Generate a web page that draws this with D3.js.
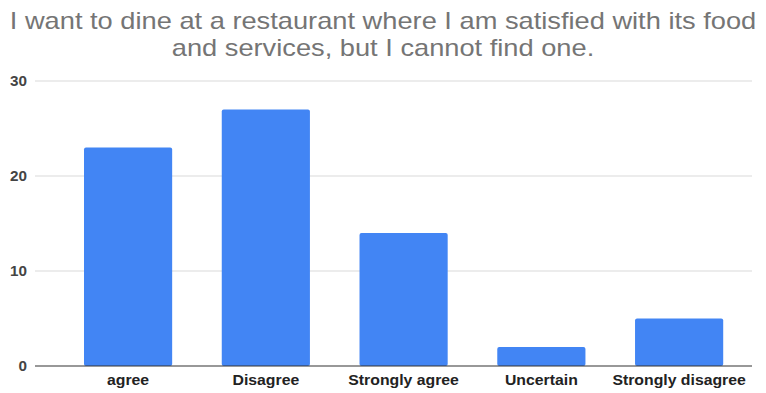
<!DOCTYPE html>
<html>
<head>
<meta charset="utf-8">
<script src="https://cdn.jsdelivr.net/npm/d3@7"></script>
<style>
  html, body { margin: 0; padding: 0; background: #fff; }
  svg { display: block; }
</style>
</head>
<body>
<svg id="chart" width="766" height="393"></svg>
<script>
const titleLines = [
  "I want to dine at a restaurant where I am satisfied with its food",
  "and services, but I cannot find one."
];
const categories = ["agree", "Disagree", "Strongly agree", "Uncertain", "Strongly disagree"];
const counts = [23, 27, 14, 2, 5];
const yTicks = [0, 10, 20, 30];

const svg = d3.select("#chart");
const FONT = "Liberation Sans, Arial, sans-serif";
const STRETCH = 1.09; // text is drawn slightly wide

const x = d3.scaleBand()
  .domain(categories)
  .range([59.2, 748])
  .paddingInner(0.36)
  .paddingOuter(0.18);

const y = d3.scaleLinear().domain([0, 30]).range([366, 81]);

// title, two lines
svg.append("g").selectAll("text")
  .data(titleLines)
  .join("text")
  .attr("transform", (d, i) => `translate(383,${29 + i * 26.5}) scale(1.185,1)`)
  .attr("text-anchor", "middle")
  .attr("font-family", FONT)
  .attr("font-size", 23)
  .attr("fill", "#757575")
  .text(d => d);

// gridlines
svg.append("g").selectAll("line")
  .data(yTicks.filter(t => t > 0))
  .join("line")
  .attr("x1", 35).attr("x2", 752)
  .attr("y1", d => y(d)).attr("y2", d => y(d))
  .attr("stroke", "#d9d9d9")
  .attr("stroke-width", 1);

// y axis labels
svg.append("g").selectAll("text")
  .data(yTicks)
  .join("text")
  .attr("transform", d => `translate(27,${y(d)}) scale(${STRETCH},1)`)
  .attr("dy", "0.36em")
  .attr("text-anchor", "end")
  .attr("font-family", FONT)
  .attr("font-size", 14)
  .attr("font-weight", "bold")
  .attr("fill", "#444")
  .text(d => d);

// bars
svg.append("g").selectAll("rect")
  .data(categories.map((c, i) => ({ c, v: counts[i] })))
  .join("rect")
  .attr("x", d => x(d.c))
  .attr("y", d => y(d.v))
  .attr("width", x.bandwidth())
  .attr("height", d => y(0) - y(d.v))
  .attr("rx", 2)
  .attr("fill", "#4285f4");

// baseline
svg.append("line")
  .attr("x1", 35).attr("x2", 752)
  .attr("y1", y(0)).attr("y2", y(0))
  .attr("stroke", "#333").attr("stroke-width", 1.2);

// category labels
svg.append("g").selectAll("text")
  .data(categories)
  .join("text")
  .attr("transform", d => `translate(${x(d) + x.bandwidth() / 2},385) scale(${STRETCH},1)`)
  .attr("text-anchor", "middle")
  .attr("font-family", FONT)
  .attr("font-size", 14.5)
  .attr("font-weight", "bold")
  .attr("fill", "#222")
  .text(d => d);
</script>
</body>
</html>
